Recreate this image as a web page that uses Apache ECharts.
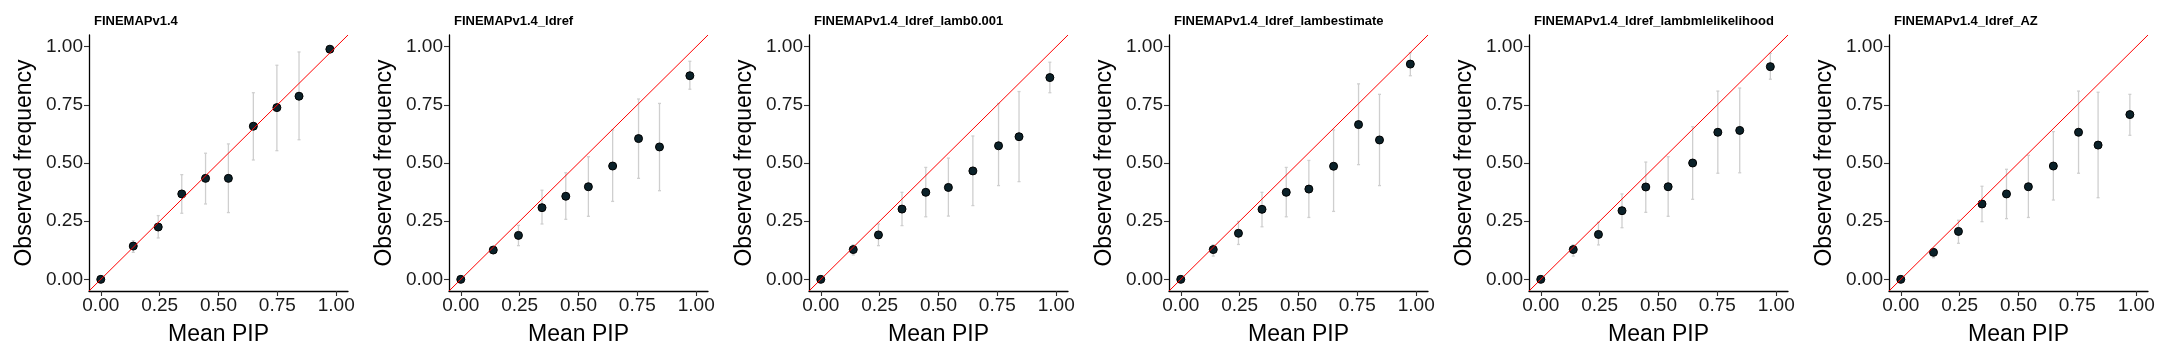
<!DOCTYPE html>
<html>
<head>
<meta charset="utf-8">
<script src="https://cdn.jsdelivr.net/npm/echarts@6/dist/echarts.min.js"></script>
<style>
html,body{margin:0;padding:0;background:#fff;}
#chart{width:2160px;height:360px;}
</style>
</head>
<body>
<div id="chart"></div>
<script>
const panelTitles = ["FINEMAPv1.4", "FINEMAPv1.4_ldref", "FINEMAPv1.4_ldref_lamb0.001", "FINEMAPv1.4_ldref_lambestimate", "FINEMAPv1.4_ldref_lambmlelikelihood", "FINEMAPv1.4_ldref_AZ"];
const tickValues = [0, 0.25, 0.5, 0.75, 1.0];

// Panel 1: FINEMAPv1.4
const pip1 = [0, 0.138, 0.244, 0.344, 0.445, 0.542, 0.648, 0.748, 0.842, 0.973];
const obs1 = [0, 0.143, 0.225, 0.367, 0.434, 0.434, 0.658, 0.738, 0.787, 0.989];
const lo1  = [0, 0.116, 0.178, 0.284, 0.324, 0.287, 0.513, 0.553, 0.600, 0.975];
const hi1  = [0, 0.166, 0.274, 0.450, 0.542, 0.582, 0.802, 0.920, 0.977, 1.000];

// Panel 2: FINEMAPv1.4_ldref
const pip2 = [0, 0.138, 0.245, 0.345, 0.446, 0.542, 0.645, 0.755, 0.844, 0.973];
const obs2 = [0, 0.126, 0.189, 0.308, 0.357, 0.398, 0.487, 0.605, 0.569, 0.875];
const lo2  = [0, 0.112, 0.145, 0.238, 0.258, 0.271, 0.335, 0.434, 0.381, 0.817];
const hi2  = [0, 0.137, 0.232, 0.383, 0.458, 0.527, 0.642, 0.775, 0.756, 0.937];

// Panel 3: FINEMAPv1.4_ldref_lamb0.001
const pip3 = [0, 0.138, 0.245, 0.345, 0.446, 0.542, 0.646, 0.755, 0.842, 0.973];
const obs3 = [0, 0.128, 0.191, 0.302, 0.374, 0.395, 0.466, 0.574, 0.613, 0.867];
const lo3  = [0, 0.105, 0.145, 0.231, 0.269, 0.272, 0.317, 0.403, 0.420, 0.802];
const hi3  = [0, 0.148, 0.238, 0.374, 0.481, 0.521, 0.616, 0.756, 0.807, 0.933];

// Panel 4: FINEMAPv1.4_ldref_lambestimate
const pip4 = [0, 0.138, 0.245, 0.345, 0.448, 0.544, 0.649, 0.755, 0.844, 0.975];
const obs4 = [0, 0.128, 0.198, 0.301, 0.374, 0.388, 0.486, 0.665, 0.599, 0.925];
const lo4  = [0, 0.100, 0.150, 0.226, 0.269, 0.266, 0.292, 0.493, 0.403, 0.875];
const hi4  = [0, 0.148, 0.249, 0.374, 0.481, 0.511, 0.642, 0.840, 0.795, 0.974];

// Panel 5: FINEMAPv1.4_ldref_lambmlelikelihood
const pip5 = [0, 0.138, 0.245, 0.345, 0.446, 0.541, 0.645, 0.752, 0.845, 0.975];
const obs5 = [0, 0.128, 0.193, 0.295, 0.397, 0.398, 0.500, 0.632, 0.640, 0.914];
const lo5  = [0, 0.100, 0.148, 0.222, 0.288, 0.271, 0.344, 0.456, 0.458, 0.860];
const hi5  = [0, 0.148, 0.245, 0.367, 0.504, 0.527, 0.656, 0.809, 0.822, 0.971];

// Panel 6: FINEMAPv1.4_ldref_AZ
const pip6 = [0, 0.139, 0.245, 0.345, 0.449, 0.542, 0.648, 0.755, 0.838, 0.973];
const obs6 = [0, 0.116, 0.206, 0.324, 0.367, 0.398, 0.487, 0.632, 0.577, 0.708];
const lo6  = [0, 0.093, 0.155, 0.248, 0.261, 0.266, 0.341, 0.456, 0.351, 0.619];
const hi6  = [0, 0.133, 0.254, 0.400, 0.473, 0.533, 0.635, 0.809, 0.804, 0.795];

const pips = [pip1, pip2, pip3, pip4, pip5, pip6];
const obss = [obs1, obs2, obs3, obs4, obs5, obs6];
const los  = [lo1, lo2, lo3, lo4, lo5, lo6];
const his  = [hi1, hi2, hi3, hi4, hi5, hi6];

const FONT = "'Liberation Sans', Arial, Helvetica, sans-serif";
const chart = echarts.init(document.getElementById('chart'), null, {renderer: 'canvas'});

const grids = [], xAxes = [], yAxes = [], series = [], titles = [];
const lim = [-0.05, 1.05];

for (let i = 0; i < 6; i++) {
  const off = 360 * i;
  grids.push({left: off + 89, top: 35, width: 259, height: 256, containLabel: false});
  titles.push({
    text: panelTitles[i], left: off + 89, top: 10,
    textStyle: {fontFamily: FONT, fontSize: 13, fontWeight: 'bold', color: '#000'}
  });
  const axisCommon = {
    type: 'value', min: lim[0], max: lim[1], gridIndex: i,
    splitLine: {show: false},
    axisLine: {show: true, onZero: false, lineStyle: {color: '#000', width: 1.3}},
    axisTick: {show: true, customValues: tickValues, length: 5, lineStyle: {color: '#333', width: 1.1}},
    axisLabel: {show: true, customValues: tickValues, fontFamily: FONT, fontSize: 19, color: '#1a1a1a',
      formatter: v => Number(v).toFixed(2)},
    nameLocation: 'middle',
    nameTextStyle: {fontFamily: FONT, fontSize: 23, color: '#000'}
  };
  xAxes.push(Object.assign({}, axisCommon, {
    name: 'Mean PIP', nameGap: 32,
    axisLabel: Object.assign({}, axisCommon.axisLabel, {margin: 5})
  }));
  yAxes.push(Object.assign({}, axisCommon, {
    name: 'Observed frequency', nameGap: 53,
    axisLabel: Object.assign({}, axisCommon.axisLabel, {margin: 6})
  }));

  const errData = pips[i].map((x, k) => [x, los[i][k], his[i][k]]);
  series.push({
    type: 'custom', xAxisIndex: i, yAxisIndex: i, z: 2, silent: true,
    data: errData,
    renderItem: function (params, api) {
      const x = api.value(0), lo = api.value(1), hi = api.value(2);
      if (hi - lo <= 0) return null;
      const p1 = api.coord([x, lo]), p2 = api.coord([x, hi]);
      const cw = 1.5;
      const st = {stroke: '#cfcfcf', lineWidth: 1.3};
      return {type: 'group', children: [
        {type: 'line', shape: {x1: p1[0], y1: p1[1], x2: p2[0], y2: p2[1]}, style: st},
        {type: 'line', shape: {x1: p1[0]-cw, y1: p1[1], x2: p1[0]+cw, y2: p1[1]}, style: st},
        {type: 'line', shape: {x1: p2[0]-cw, y1: p2[1], x2: p2[0]+cw, y2: p2[1]}, style: st}
      ]};
    }
  });
  series.push({
    type: 'scatter', xAxisIndex: i, yAxisIndex: i, z: 3, silent: true,
    symbol: 'circle', symbolSize: 8,
    itemStyle: {color: '#0b2129', borderColor: '#000', borderWidth: 1, opacity: 1},
    data: pips[i].map((x, k) => [x, obss[i][k]])
  });
  series.push({
    type: 'line', xAxisIndex: i, yAxisIndex: i, z: 4, silent: true,
    symbol: 'none', animation: false,
    lineStyle: {color: '#ff0000', width: 1},
    data: [[lim[0], lim[0]], [lim[1], lim[1]]]
  });
}

chart.setOption({
  animation: false,
  backgroundColor: '#fff',
  title: titles,
  grid: grids,
  xAxis: xAxes,
  yAxis: yAxes,
  series: series
});
</script>
</body>
</html>
